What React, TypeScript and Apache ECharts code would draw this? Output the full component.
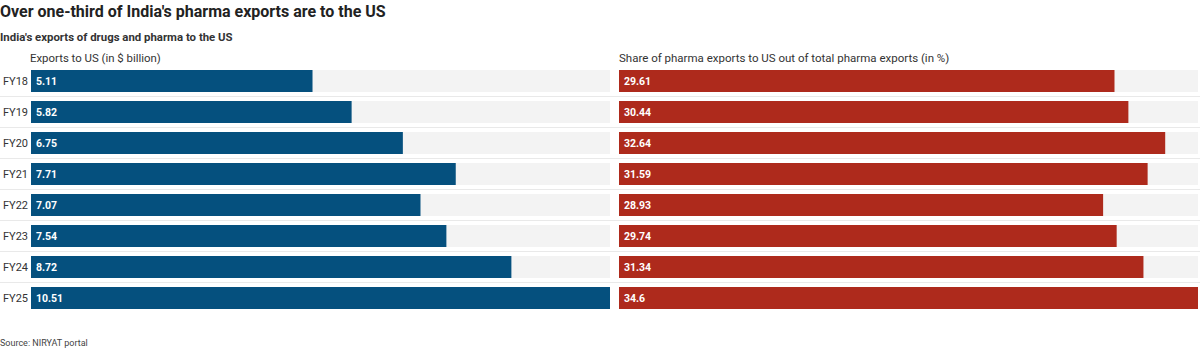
import React, { useEffect, useRef } from "react";
import * as echarts from "echarts";

const categories = ["FY18", "FY19", "FY20", "FY21", "FY22", "FY23", "FY24", "FY25"];
const exportsUS = [5.11, 5.82, 6.75, 7.71, 7.07, 7.54, 8.72, 10.51];
const shareUS = [29.61, 30.44, 32.64, 31.59, 28.93, 29.74, 31.34, 34.6];

const FONT = "'Roboto', sans-serif";

export default function App() {
  const ref = useRef<HTMLDivElement>(null);
  useEffect(() => {
    document.body.style.margin = "0";
    const chart = echarts.init(ref.current!, null, { renderer: "svg" });
    const top = 65.5;
    const bottom = 354 - 313.5;
    const band = (313.5 - 65.5) / categories.length;
    const t = (text: string, left: number, topPos: number, fontSize: number, weight: string, color: string) => ({
      text, left, top: topPos, padding: 0,
      textStyle: { fontSize, fontWeight: weight, color, fontFamily: FONT },
    });
    chart.setOption({
      animation: false,
      textStyle: { fontFamily: FONT },
      title: [
        t("Over one-third of India's pharma exports are to the US", 0, 3, 16, "bold", "#222"),
        t("India's exports of drugs and pharma to the US", 0, 31, 11.4, "bold", "#333"),
        t("Exports to US (in $ billion)", 30, 52, 11.4, "normal", "#333"),
        t("Share of pharma exports to US out of total pharma exports (in %)", 619, 52, 11.5, "normal", "#333"),
        t("Source: NIRYAT portal", 0, 338, 9, "normal", "#444"),
      ],
      grid: [
        { left: 30, right: 590, top, bottom },
        { left: 619, right: 2, top, bottom },
        { left: 0, right: 0, top: top + band, bottom: bottom + band },
      ],
      xAxis: [
        { gridIndex: 0, type: "value", min: 0, max: 10.51, show: false },
        { gridIndex: 1, type: "value", min: 0, max: 34.6, show: false },
        { gridIndex: 2, type: "value", min: 0, max: 1, show: false },
      ],
      yAxis: [
        {
          gridIndex: 0, type: "category", data: categories, inverse: true,
          axisLine: { show: false }, axisTick: { show: false }, splitLine: { show: false },
          axisLabel: { color: "#333", fontSize: 11, margin: 28, align: "left", fontFamily: FONT },
        },
        {
          gridIndex: 1, type: "category", data: categories, inverse: true,
          axisLine: { show: false }, axisTick: { show: false }, axisLabel: { show: false }, splitLine: { show: false },
        },
        {
          gridIndex: 2, type: "category", data: categories.slice(1, -1), inverse: true,
          axisLine: { show: false }, axisTick: { show: false }, axisLabel: { show: false },
          splitLine: { show: true, interval: 0, lineStyle: { color: "#e9e9e9", width: 1 } },
          z: 0,
        },
      ],
      series: [
        {
          type: "bar", xAxisIndex: 0, yAxisIndex: 0, data: exportsUS, barWidth: 22,
          itemStyle: { color: "#05507e" },
          showBackground: true, backgroundStyle: { color: "#f3f3f3" },
          label: { show: true, position: "insideLeft", color: "#fff", fontSize: 10.5, fontWeight: "bold", distance: 5, fontFamily: FONT },
        },
        {
          type: "bar", xAxisIndex: 1, yAxisIndex: 1, data: shareUS, barWidth: 22,
          itemStyle: { color: "#ae2a1c" },
          showBackground: true, backgroundStyle: { color: "#f3f3f3" },
          label: { show: true, position: "insideLeft", color: "#fff", fontSize: 10.5, fontWeight: "bold", distance: 5, fontFamily: FONT },
        },
      ],
    });
    return () => chart.dispose();
  }, []);
  return <div ref={ref} style={{ width: 1200, height: 354 }} />;
}
